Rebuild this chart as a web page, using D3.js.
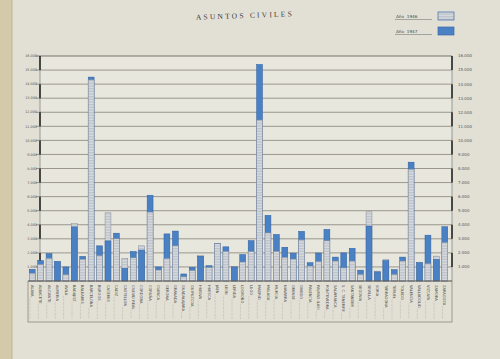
<!DOCTYPE html>
<html><head><meta charset="utf-8">
<script src="https://cdn.jsdelivr.net/npm/d3@7/dist/d3.min.js"></script>
<style>html,body{margin:0;padding:0;background:#e2e0d5;}svg{display:block;}</style>
</head><body><svg id="c" width="500" height="359"></svg>
<script>
const provinces = ["ALAVA","ALBACETE","ALICANTE","ALMERIA","AVILA","BADAJOZ","BALEARES","BARCELONA","BURGOS","CACERES","CADIZ","CASTELLON","CIUDAD REAL","CORDOBA","CORUÑA","CUENCA","GERONA","GRANADA","GUADALAJARA","GUIPUZCOA","HUELVA","HUESCA","JAEN","LEON","LERIDA","LOGROÑO","LUGO","MADRID","MALAGA","MURCIA","NAVARRA","ORENSE","OVIEDO","PALENCIA","PALMAS (LAS)","PONTEVEDRA","SALAMANCA","S. C. TENERIFE","SANTANDER","SEGOVIA","SEVILLA","SORIA","TARRAGONA","TERUEL","TOLEDO","VALENCIA","VALLADOLID","VIZCAYA","ZAMORA","ZARAGOZA"];
const v1946 = [550,1180,1620,1400,450,4080,1550,14300,1800,4850,3000,1600,1650,2500,4900,780,1600,2500,300,740,1800,960,2650,2100,1020,1350,2100,11450,3420,2110,1680,1560,2920,1060,1390,2860,1420,930,1420,470,4920,700,1510,470,1420,7950,1330,1230,1770,2740];
const v1947 = [830,1450,1950,1380,1000,3850,1750,14500,2500,2850,3400,900,2100,2200,6100,1000,3350,3550,500,980,1760,1090,2680,2430,1000,1880,2870,15400,4670,3310,2400,1980,3530,1300,1990,3670,1700,2000,2330,770,3910,650,1450,810,1700,8450,1300,3260,1530,3860];
const yTicks = [1000,2000,3000,4000,5000,6000,7000,8000,9000,10000,11000,12000,13000,14000,15000,16000];
const seriesNames = ["Año  1946","Año  1947"];

const svg = d3.select("#c");
const fmt = v => d3.format(",")(v).replace(/,/g,".");

// paper
svg.append("rect").attr("width",500).attr("height",359).attr("fill","#e2e0d5");
svg.append("rect").attr("x",0).attr("width",12).attr("height",359).attr("fill","#d4caa9");
svg.append("line").attr("x1",12).attr("x2",12).attr("y1",0).attr("y2",359).attr("stroke","#b8ab88").attr("stroke-width",0.8);

const defs = svg.append("defs");
const pat = defs.append("pattern").attr("id","hatch").attr("patternUnits","userSpaceOnUse").attr("width",4).attr("height",1.6);
pat.append("rect").attr("width",4).attr("height",1.6).attr("fill","#d9dce1");
pat.append("line").attr("x1",0).attr("x2",4).attr("y1",0.3).attr("y2",0.3).attr("stroke","#a9aeb7").attr("stroke-width",0.6);

const L = 40, R = 452, T = 56, B = 281;
const x = d3.scaleBand().domain(provinces).range([28, 449]).paddingInner(0.3).paddingOuter(0.15);
const y = d3.scaleLinear().domain([0,16000]).range([B, T]);

svg.append("rect").attr("x",L).attr("y",T).attr("width",R-L).attr("height",B-T).attr("fill","#e8e7de");

// gridlines
svg.append("g").selectAll("line").data(yTicks).join("line")
  .attr("x1",L-4).attr("x2",R).attr("y1",d=>y(d)).attr("y2",d=>y(d))
  .attr("stroke","#77746b").attr("stroke-width",d=>d===16000?1:0.7);

// axes with ruler-like thick segments
[L,R].forEach(ax=>{
  svg.append("line").attr("x1",ax).attr("x2",ax).attr("y1",T).attr("y2",B).attr("stroke","#666").attr("stroke-width",0.6);
  svg.append("g").selectAll("line").data(yTicks.filter((d,i)=>i%2===1)).join("line")
    .attr("x1",ax).attr("x2",ax).attr("y1",d=>y(d)).attr("y2",d=>y(d-1000))
    .attr("stroke","#2b2a27").attr("stroke-width",1.6);
});
svg.append("g").selectAll("text").data(yTicks).join("text")
  .attr("x",37).attr("y",d=>y(d)+1.2).attr("text-anchor","end")
  .attr("font-family","DejaVu Sans").attr("font-size",3.4).attr("fill","#555").text(fmt);
svg.append("g").selectAll("text").data(yTicks).join("text")
  .attr("x",458).attr("y",d=>y(d)+1.4)
  .attr("font-family","DejaVu Sans").attr("font-size",4).attr("fill","#555").text(fmt);

// bars (larger value behind, smaller in front)
const gBars = svg.append("g");
provinces.forEach((p,i)=>{
  const vals = [{s:0,v:v1946[i]},{s:1,v:v1947[i]}].sort((a,b)=>b.v-a.v);
  vals.forEach(d=>{
    gBars.append("rect")
      .attr("x",x(p)).attr("width",x.bandwidth())
      .attr("y",y(d.v)).attr("height",y(0)-y(d.v))
      .attr("fill",d.s===0?"url(#hatch)":"#4a80c4")
      .attr("stroke",d.s===0?"#858b96":"#2f609f").attr("stroke-width",0.5);
  });
});
svg.append("line").attr("x1",28).attr("x2",R).attr("y1",B).attr("y2",B).attr("stroke","#555").attr("stroke-width",0.8);

// label table
svg.append("rect").attr("x",28).attr("y",B).attr("width",R-28).attr("height",41).attr("fill","none").attr("stroke","#6e6c66").attr("stroke-width",0.6);
const gl = svg.append("g");
provinces.forEach(p=>{
  const cx = x(p)+x.bandwidth()/2;
  const t = gl.append("text").attr("transform",`translate(${cx-1.3},${B+4}) rotate(90)`)
    .attr("font-family","DejaVu Sans").attr("font-size",3.6).attr("fill","#4a4a48").text(p);
  const len = t.node().getComputedTextLength();
  if (B+4+len+1 < B+38) {
    gl.append("line").attr("x1",cx-2.3).attr("x2",cx-2.3).attr("y1",B+4+len+1).attr("y2",B+38)
      .attr("stroke","#8a8880").attr("stroke-width",0.5).attr("stroke-dasharray","0.5,0.9");
  }
});

// title
svg.append("text").attr("x",245).attr("y",18).attr("text-anchor","middle")
  .attr("transform","rotate(-2,245,18)")
  .attr("font-family","Liberation Serif").attr("font-size",7.5).attr("letter-spacing",2.2)
  .attr("fill","#3a3a38").text("ASUNTOS CIVILES");

// legend
const leg = svg.append("g");
seriesNames.forEach((n,i)=>{
  const yy = 18 + i*15;
  leg.append("text").attr("x",396).attr("y",yy).attr("font-family","DejaVu Sans").attr("font-size",4.2)
    .attr("fill","#444").attr("xml:space","preserve").text(n);
  leg.append("line").attr("x1",395).attr("x2",432).attr("y1",yy+1.5).attr("y2",yy+1.5).attr("stroke","#666").attr("stroke-width",0.5);
  leg.append("rect").attr("x",438).attr("y",yy-6).attr("width",16).attr("height",8)
    .attr("fill",i===0?"url(#hatch)":"#4a80c4").attr("stroke","#3a6aaa").attr("stroke-width",0.7);
});
</script></body></html>
